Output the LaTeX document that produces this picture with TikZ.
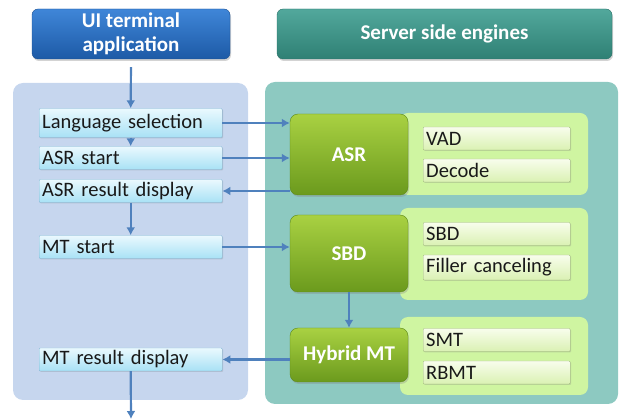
\documentclass[tikz,border=0pt]{standalone}
\usepackage{fontspec}
\setmainfont{Carlito}
\usepackage{tikz}
\usetikzlibrary{shapes,arrows,arrows.meta}
\usetikzlibrary{shadows}

\definecolor{leftpanel}{HTML}{C6D6EE}
\definecolor{rightpanel}{HTML}{8DC9C1}
\definecolor{uitop}{HTML}{3F86D8}
\definecolor{uibot}{HTML}{1D5AA6}
\definecolor{uiedge}{HTML}{1A4E8F}
\definecolor{srvtop}{HTML}{52A89C}
\definecolor{srvbot}{HTML}{2F8074}
\definecolor{srvedge}{HTML}{2A7067}
\definecolor{steptop}{HTML}{EAF9FE}
\definecolor{stepbot}{HTML}{A8E1F5}
\definecolor{stepedge}{HTML}{7DB3D3}
\definecolor{engtop}{HTML}{A9D142}
\definecolor{engbot}{HTML}{6B9A1D}
\definecolor{engedge}{HTML}{5E8A1A}
\definecolor{grpfill}{HTML}{CFF5A1}
\definecolor{subtop}{HTML}{F8FDEC}
\definecolor{subbot}{HTML}{DAF1B3}
\definecolor{subedge}{HTML}{9DB57A}
\definecolor{flow}{HTML}{4F81BD}

\newcommand{\diagfont}{\fontsize{20.5}{22}\selectfont}
\newcommand{\diagbold}{\fontsize{21}{24}\selectfont\bfseries}

\begin{document}
\begin{tikzpicture}[x=1pt, y=-1pt, >={Latex[length=8pt,width=9pt]},
	hdrbox/.style={draw, rounded corners=6pt, minimum height=50pt, inner sep=0pt, align=center, text=white, font=\diagbold, drop shadow={shadow xshift=1pt, shadow yshift=-2pt, opacity=0.35}},
	stepbox/.style={draw=stepedge, top color=steptop, bottom color=stepbot, rounded corners=1pt, minimum height=23pt, text width=177pt, inner xsep=3pt, inner ysep=0pt, align=left, anchor=west, text=black!90, font=\diagfont, drop shadow={shadow xshift=1pt, shadow yshift=-1pt, opacity=0.25}},
	engbox/.style={draw=engedge, top color=engtop, bottom color=engbot, rounded corners=8pt, minimum width=118pt, inner sep=0pt, text=white, font=\diagbold, drop shadow={shadow xshift=1pt, shadow yshift=-2pt, opacity=0.3}},
	subbox/.style={draw=subedge, top color=subtop, bottom color=subbot, rounded corners=1pt, minimum height=23pt, text width=141pt, inner xsep=3pt, inner ysep=0pt, align=left, anchor=west, text=black!90, font=\diagfont, drop shadow={shadow xshift=1pt, shadow yshift=-1pt, opacity=0.25}},
	flowline/.style={draw=flow, line width=2.2pt, ->}]
	\useasboundingbox (0,0) rectangle (619,419);

	\fill[leftpanel, rounded corners=10pt] (13,83) rectangle (248,400);
	\fill[rightpanel, rounded corners=10pt] (265,82) rectangle (618,404);

	\node[hdrbox, draw=uiedge, top color=uitop, bottom color=uibot, minimum width=198pt] (hdrui) at (131,34) {UI terminal\\application};
	\node[hdrbox, draw=srvedge, top color=srvtop, bottom color=srvbot, minimum width=335pt] (hdrsrv) at (444.5,34) {Server side engines};

	\fill[grpfill, rounded corners=8pt] (400,113) rectangle (588,195);
	\fill[grpfill, rounded corners=8pt] (400,208) rectangle (588,300);
	\fill[grpfill, rounded corners=8pt] (400,317) rectangle (588,395);

	\node[stepbox, minimum height=29pt] (langsel) at (39,123) {Language selection};
	\node[stepbox] (asrstart) at (39,158) {ASR start};
	\node[stepbox] (asrres) at (39,191) {ASR result display};
	\node[stepbox] (mtstart) at (39,247) {MT start};
	\node[stepbox] (mtres) at (39,359.5) {MT result display};

	\node[engbox, minimum height=81pt] (asr) at (349,154.5) {ASR};
	\node[engbox, minimum height=77pt] (sbd) at (349,253.5) {SBD};
	\node[engbox, minimum height=54pt] (hmt) at (349,355) {Hybrid MT};

	\node[subbox] (vad) at (423,138.5) {VAD};
	\node[subbox] (decode) at (423,170.5) {Decode};
	\node[subbox] (sbdsub) at (423,234) {SBD};
	\node[subbox, minimum height=25pt] (filler) at (423,267.5) {Filler canceling};
	\node[subbox] (smt) at (423,340) {SMT};
	\node[subbox] (rbmt) at (423,372.5) {RBMT};

	\coordinate (out) at (131,419);

	\draw[flowline, shorten <=8pt] (hdrui.south) -- (langsel.north);
	\draw[flowline] (langsel.south) -- (asrstart.north);
	\draw[flowline] (asrres.south) -- (mtstart.north);
	\draw[flowline] (mtres.south) -- (out);

	\draw[flowline] (langsel.east) -- (langsel.east -| asr.west);
	\draw[flowline] (asrstart.east) -- (asrstart.east -| asr.west);
	\draw[flowline] (asr.west |- asrres.east) -- (asrres.east);
	\draw[flowline] (mtstart.east) -- (mtstart.east -| sbd.west);
	\draw[flowline] (sbd.south) -- (hmt.north);
	\draw[flowline] (hmt.west |- mtres.east) -- (mtres.east);
\end{tikzpicture}
\end{document}
